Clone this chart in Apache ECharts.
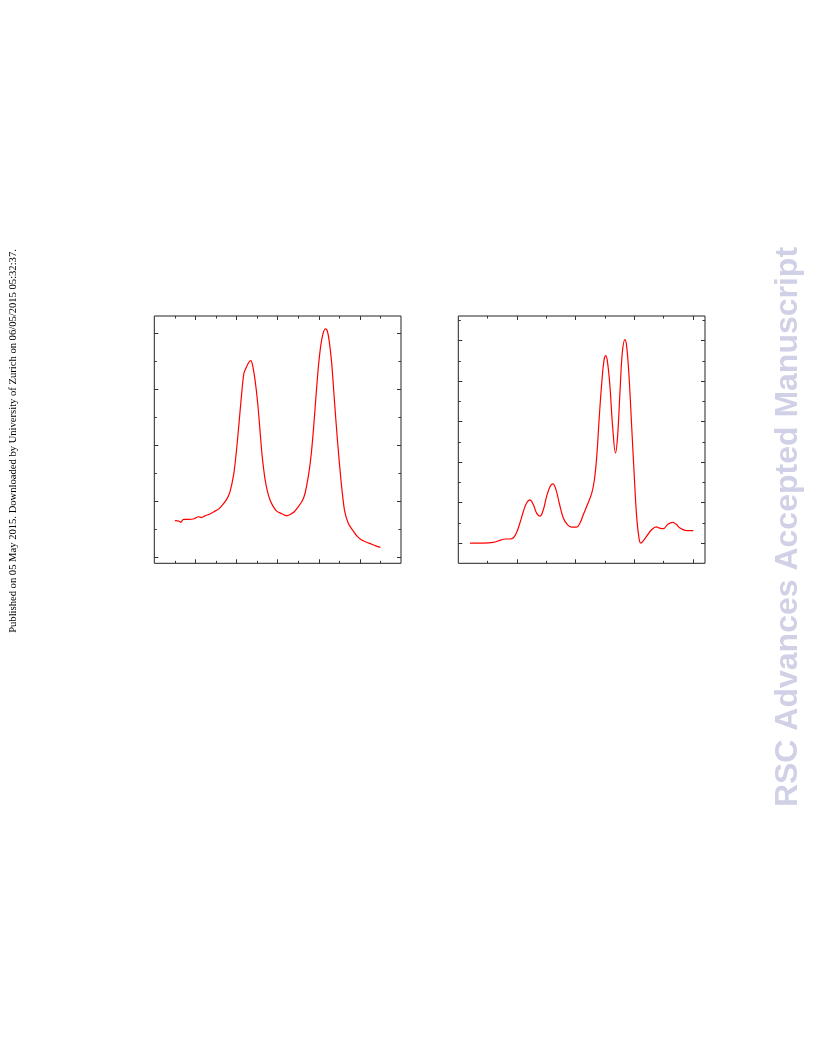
<!DOCTYPE html>
<html>
<head>
<meta charset="utf-8">
<script src="https://cdn.jsdelivr.net/npm/echarts@6/dist/echarts.min.js"></script>
<style>
html,body{margin:0;padding:0;background:#fff;}
#chart{width:816px;height:1056px;}
</style>
</head>
<body>
<div id="chart"></div>
<script>
// Left panel (tick units)
const leftX = [0,0.21,0.29,0.42,0.65,0.94,1.14,1.30,1.46,1.70,1.95,2.14,2.32,2.52,2.68,2.87,3.0,3.12,3.25,3.36,3.49,3.60,3.70,3.78,3.90,4.03,4.14,4.25,4.38,4.51,4.63,4.79,4.95,5.16,5.36,5.49,5.65,5.81,6.01,6.20,6.33,6.49,6.62,6.74,6.85,6.98,7.09,7.19,7.31,7.40,7.50,7.63,7.76,7.92,8.08,8.25,8.44,8.64,8.85,9.09,9.33,9.58,9.74,10.0];
const leftY = [1.32,1.30,1.26,1.37,1.37,1.39,1.46,1.43,1.49,1.56,1.66,1.74,1.88,2.08,2.35,3.01,3.84,4.79,5.86,6.58,6.81,6.97,7.03,6.87,6.34,5.51,4.55,3.60,2.83,2.35,2.06,1.82,1.66,1.58,1.51,1.50,1.56,1.64,1.82,2.03,2.29,2.89,3.60,4.55,5.62,6.81,7.53,7.94,8.16,8.12,7.77,6.93,5.62,4.08,2.77,1.70,1.22,0.99,0.78,0.63,0.55,0.48,0.43,0.37];
// Right panel (tick units)
const rightX = [0.40,0.85,1.19,1.42,1.59,1.76,1.88,1.99,2.10,2.22,2.33,2.44,2.56,2.67,2.78,2.90,3.01,3.13,3.22,3.33,3.44,3.58,3.72,3.86,4.03,4.15,4.26,4.40,4.55,4.64,4.72,4.80,4.89,4.97,5.03,5.09,5.17,5.26,5.36,5.43,5.51,5.59,5.68,5.74,5.82,5.91,6.0,6.08,6.16,6.22,6.31,6.44,6.59,6.75,6.86,6.99,7.13,7.30,7.42,7.56,7.73,7.88,8.01];
const rightY = [0,0,0.03,0.13,0.20,0.20,0.26,0.53,0.99,1.57,1.98,2.13,1.89,1.48,1.33,1.65,2.31,2.80,2.92,2.64,1.98,1.24,0.91,0.79,0.79,0.99,1.40,1.89,2.47,3.13,4.28,6.10,7.91,9.06,9.26,8.90,7.74,5.77,4.45,5.27,7.41,9.39,10.05,9.72,8.24,5.77,3.29,1.32,0.25,0.0,0.12,0.38,0.66,0.80,0.74,0.71,0.91,1.02,0.94,0.74,0.63,0.61,0.61];
// Tick positions
const leftXMajor = [1,3,5,7,9], leftXMinor = [0,2,4,6,8,10];
const leftYMajor = [0,2,4,6,8], leftYMinor = [1,3,5,7];
const rightXMajor = [2,4,6,8], rightXMinor = [1,3,5,7];
const rightYMajor = [0,2,4,6,8,10], rightYMinor = [1,3,5,7,9,11];

const pairs = (xs, ys) => xs.map((x, i) => [x, ys[i]]);

const panels = [
  {rect:{left:154.3, top:316, width:246.7, height:247.3}, x:[-1,11], y:[-0.2,8.62],
   xMaj:leftXMajor, xMin:leftXMinor, yMaj:leftYMajor, yMin:leftYMinor, data:pairs(leftX,leftY), smooth:0.25},
  {rect:{left:458.3, top:316, width:246.7, height:247.3}, x:[0,8.41], y:[-1,11.22],
   xMaj:rightXMajor, xMin:rightXMinor, yMaj:rightYMajor, yMin:rightYMinor, data:pairs(rightX,rightY), smooth:0.4}
];

const grid = [], xAxis = [], yAxis = [], series = [];
const tickColor = '#333';
panels.forEach((p, pi) => {
  [['maj', 4], ['min', 2.5]].forEach(([kind, len], k) => {
    const gi = grid.length;
    grid.push(Object.assign({show: k === 0, borderColor: '#222', borderWidth: 1, containLabel: false}, p.rect));
    const xv = kind === 'maj' ? p.xMaj : p.xMin;
    const yv = kind === 'maj' ? p.yMaj : p.yMin;
    ['bottom', 'top'].forEach(pos => {
      xAxis.push({type:'value', gridIndex: gi, position: pos, min: p.x[0], max: p.x[1],
        axisLine:{show:false, onZero:false}, splitLine:{show:false}, axisLabel:{show:false},
        axisTick:{show:true, inside:true, length:len, customValues: xv, lineStyle:{color:tickColor, width:1}}});
    });
    ['left', 'right'].forEach(pos => {
      yAxis.push({type:'value', gridIndex: gi, position: pos, min: p.y[0], max: p.y[1],
        axisLine:{show:false, onZero:false}, splitLine:{show:false}, axisLabel:{show:false},
        axisTick:{show:true, inside:true, length:len, customValues: yv, lineStyle:{color:tickColor, width:1}}});
    });
    if (k === 0) {
      series.push({type:'line', xAxisIndex: xAxis.length - 2, yAxisIndex: yAxis.length - 2,
        data: p.data, showSymbol:false, smooth: p.smooth, clip: true,
        lineStyle:{color:'#ff0000', width:1.2}});
    }
  });
});

const chart = echarts.init(document.getElementById('chart'), null, {renderer:'canvas'});
chart.setOption({
  animation:false,
  backgroundColor:'#fff',
  grid, xAxis, yAxis, series,
  graphic:[
    {type:'text', x:13, y:441, rotation:Math.PI/2,
     style:{text:'Published on 05 May 2015. Downloaded by University of Zurich on 06/05/2015 05:32:37.',
       font:'10.6px "Liberation Serif"', fill:'#000', align:'center', verticalAlign:'middle'}},
    {type:'text', x:788, y:527, rotation:Math.PI/2,
     style:{text:'RSC Advances Accepted Manuscript',
       font:'bold 32px "Liberation Sans"', fill:'#d0d0e6', align:'center', verticalAlign:'middle'}}
  ]
});
</script>
</body>
</html>
